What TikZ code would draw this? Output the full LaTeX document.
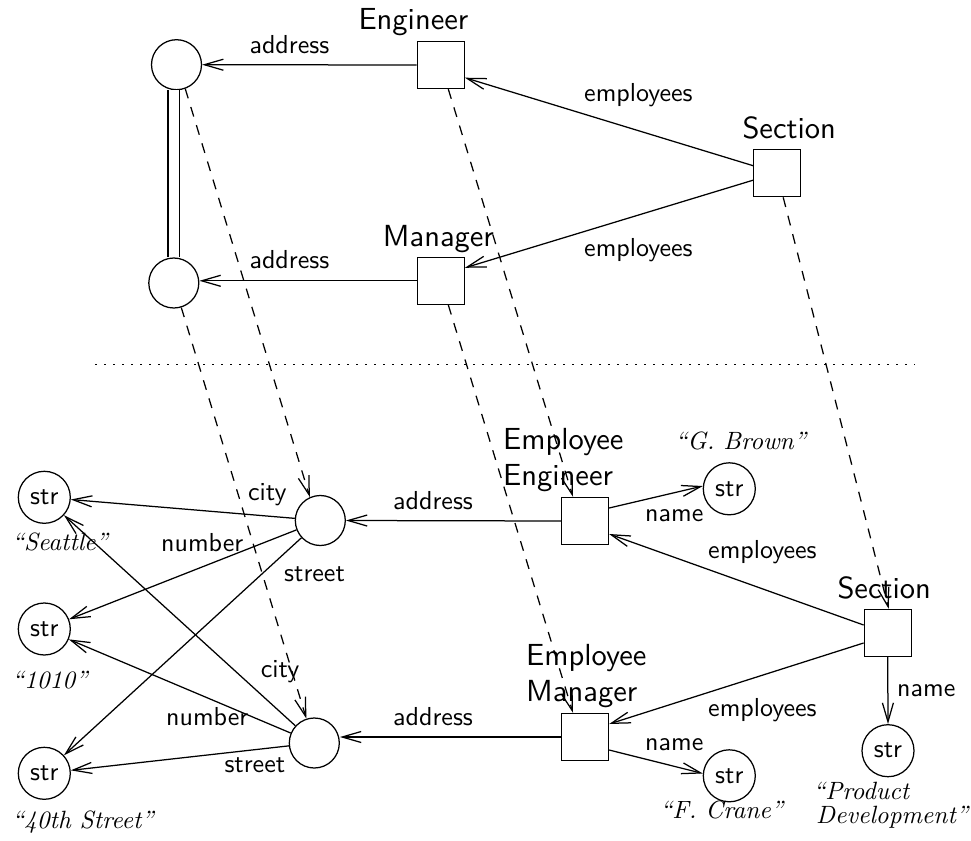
\documentclass[tikz,border=0pt]{standalone}
\usepackage{fontspec}
\newfontfamily\lmsTen{lmsans10-regular.otf}
\newfontfamily\lmiTen{lmroman10-italic.otf}
\usetikzlibrary{arrows.meta,calc}
\newcommand\bigf{\fontsize{30.5}{36.7}\selectfont\lmsTen}
\newcommand\lblf{\fontsize{26}{30}\selectfont\lmsTen}
\newcommand\itf{\fontsize{25}{24}\selectfont\lmiTen}
\tikzset{
  obj/.style={draw, circle, line width=1.25pt, minimum size=50pt, inner sep=0pt},
  strc/.style={draw, circle, line width=1.25pt, minimum size=52pt, inner sep=0pt, font=\lblf},
  boxn/.style={draw, rectangle, line width=1.25pt, minimum size=47pt, inner sep=0pt},
  lbl/.style={font=\lblf, inner sep=0pt, anchor=base west},
  big/.style={font=\bigf, inner sep=0pt, anchor=base west, align=left},
  val/.style={font=\itf, inner sep=0pt, anchor=base west, align=left},
  arr/.style={line width=1.25pt, -{Straight Barb[length=19pt,width=11pt]}},
  dsh/.style={arr, dash pattern=on 10pt off 9pt},
  dotline/.style={line width=1.5pt, dash pattern=on 1.5pt off 7.5pt},
  dbl/.style={line width=1.25pt, double, double distance=10.4pt}
}
\begin{document}
\begin{tikzpicture}[x=1pt,y=-1pt]
\useasboundingbox (0,0) rectangle (971,840);
% upper schema
\node[obj] (A1) at (176.5,64.7) {};
\node[obj] (A2) at (173.8,283) {};
\node[boxn] (Eng) at (440.8,65) {};
\node[boxn] (Man) at (440.8,280.8) {};
\node[boxn] (Sec) at (777.2,173.2) {};
\node[big] (tEng) at (358.3,30) {Engineer};
\node[big] (tMan) at (382.7,246.7) {Manager};
\node[big] (tSec) at (742.3,138.3) {Section};
\draw[arr] (Eng.west) -- (A1.east);
\draw[arr] (Man.west) -- (Man.west -| A2.east);
\draw[arr] ([yshift=7.5pt]Sec.west) -- ([yshift=-12.7pt]Eng.east);
\draw[arr] ([yshift=-7pt]Sec.west) -- ([yshift=13pt]Man.east);
\draw[dbl] (A2.north) -- (A2.north |- A1.south);
\node[lbl] (la1) at (249.3,53.3) {address};
\node[lbl] (la2) at (249.3,268.3) {address};
\node[lbl] (le1) at (584,101.7) {employees};
\node[lbl] (le2) at (584,256.7) {employees};
% separator
\coordinate (dl) at (95,364.5);
\coordinate (dr) at (915,364.5);
\draw[dotline] (dl) -- (dr);
% lower instance
\node[obj] (B1) at (320.3,520.5) {};
\node[obj] (B2) at (314.3,743) {};
\node[strc] (S1) at (44.3,497.3) {str};
\node[strc] (S2) at (44.3,629) {str};
\node[strc] (S3) at (44.3,773.3) {str};
\node[boxn] (EE) at (585,521) {};
\node[boxn] (EM) at (585,737) {};
\node[boxn] (Sec2) at (887.7,633) {};
\node[strc] (GB) at (729.3,488.8) {str};
\node[strc] (FC) at (729.3,775.8) {str};
\node[strc] (PD) at (888,750.7) {str};
\node[big] (tEE) at (503,485.7) {Employee\\Engineer};
\node[big] (tEM) at (526,701.7) {Employee\\Manager};
\node[big] (tSec2) at (837.3,598.3) {Section};
\node[val] (vSea) at (11.7,550) {“Seattle”};
\node[val] (v1010) at (11.7,688) {“1010”};
\node[val] (v40) at (11.7,828.3) {“40th Street”};
\node[val] (vGB) at (675,449.3) {“G. Brown”};
\node[val] (vFC) at (660,818) {“F. Crane”};
\node[val] (vPD) at (813,823) {“Product\\\hspace*{3pt}Development”};
\draw[arr] (EE.west) -- (B1.east);
\draw[arr] (EM.west) -- (EM.west -| B2.east);
\draw[arr] ([yshift=8pt]Sec2.west) -- ([yshift=-13pt]EE.east);
\draw[arr] ([yshift=-10pt]Sec2.west) -- ([yshift=13pt]EM.east);
\draw[arr] ([yshift=13pt]EE.east) -- (GB.174);
\draw[arr] ([yshift=-13pt]EM.east) -- (FC.175);
\draw[arr] (Sec2.south) -- (PD.north);
\draw[arr] (B1) -- (S1);
\draw[arr] (B1) -- (S2);
\draw[arr] (B1) -- (S3);
\draw[arr] (B2) -- (S1);
\draw[arr] (B2) -- (S2);
\draw[arr] (B2) -- (S3);
\node[lbl] (lb1) at (393,509.3) {address};
\node[lbl] (lb2) at (393,725) {address};
\node[lbl] (lf1) at (708,558.3) {employees};
\node[lbl] (lf2) at (708,716.7) {employees};
\node[lbl] (ln1) at (645,521) {name};
\node[lbl] (ln2) at (645,750) {name};
\node[lbl] (ln3) at (897,696) {name};
\node[lbl] (lc1) at (248,500) {city};
\node[lbl] (lnu1) at (161,551.7) {number};
\node[lbl] (ls1) at (284,581.7) {street};
\node[lbl] (lc2) at (260.7,677.3) {city};
\node[lbl] (lnu2) at (166,725) {number};
\node[lbl] (ls2) at (224.3,772.7) {street};
% mappings
\draw[dsh] (A1.290) -- (B1.114);
\draw[dsh] (A2.287) -- (B2.108);
\draw[dsh] ([xshift=7.5pt]Eng.south) -- ([xshift=-12pt]EE.north);
\draw[dsh] ([xshift=7.5pt]Man.south) -- ([xshift=-12pt]EM.north);
\draw[dsh] ([xshift=6pt]Sec.south) -- ([xshift=1pt]Sec2.north);
\end{tikzpicture}
\end{document}
